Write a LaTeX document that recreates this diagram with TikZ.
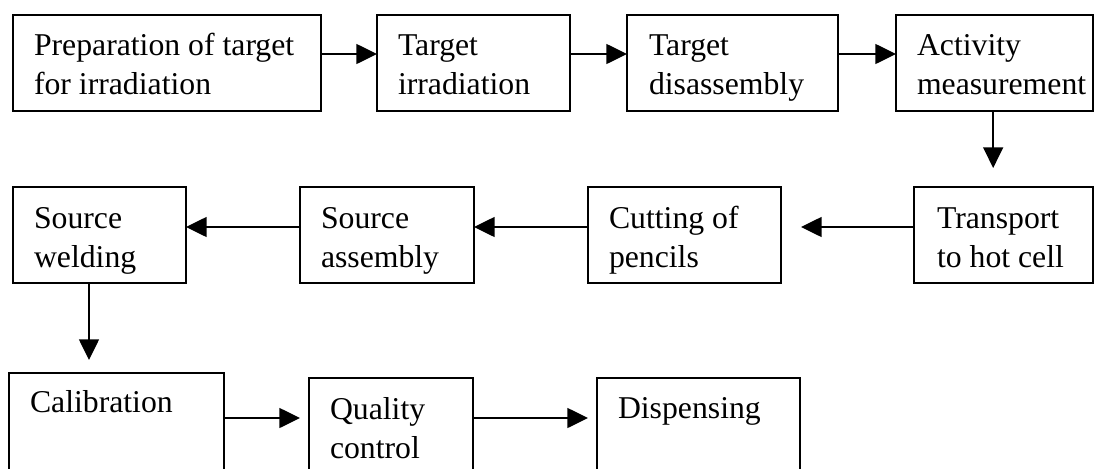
\documentclass[tikz,border=0pt]{standalone}
\usepackage{fontspec}
\setmainfont{Liberation Serif}
\usetikzlibrary{arrows.meta,calc}
\begin{document}
\begin{tikzpicture}[x=0.75pt,y=-0.75pt,
  box/.style={draw,line width=1.5pt,inner sep=0pt,outer sep=0pt,minimum height=72pt},
  lbl/.style={anchor=base west,inner sep=0pt,outer sep=0pt,align=left,font=\fontsize{23.8pt}{29.25pt}\selectfont},
  arr/.style={-{Triangle[length=15.5pt,width=15pt]},line width=1.1pt}]
\useasboundingbox (0,0) rectangle (1096,468);
\clip (0,0) rectangle (1096,468);
% row 1
\node[box,minimum width=231pt] (b1) at (167,63) {};
\node[box,minimum width=144.75pt] (b2) at (473.5,63) {};
\node[box,minimum width=158.25pt] (b3) at (732.5,63) {};
\node[box,minimum width=147.75pt] (b4) at (994.5,63) {};
% row 2
\node[box,minimum width=129.75pt] (sw) at (99.5,235) {};
\node[box,minimum width=130.5pt] (sa) at (387,235) {};
\node[box,minimum width=144.75pt] (cp) at (684.5,235) {};
\node[box,minimum width=134.25pt] (th) at (1003.5,235) {};
% row 3
\node[box,minimum width=161.25pt,minimum height=87.75pt] (cal) at (116.5,431.5) {};
\node[box,minimum width=123pt,minimum height=84pt] (qc) at (391,434) {};
\node[box,minimum width=152.25pt,minimum height=84pt] (dsp) at (698.5,434) {};
% labels (base anchor = baseline of last line)
\node[lbl] (t1) at ($(b1.north west)+(21,79)$) {Preparation of target\\for irradiation};
\node[lbl] (t2) at ($(b2.north west)+(21,79)$) {Target\\irradiation};
\node[lbl] (t3) at ($(b3.north west)+(22,79)$) {Target\\disassembly};
\node[lbl] (t4) at ($(b4.north west)+(21,79)$) {Activity\\measurement};
\node[lbl] (t5) at ($(sw.north west)+(21,80)$) {Source\\welding};
\node[lbl] (t6) at ($(sa.north west)+(21,80)$) {Source\\assembly};
\node[lbl] (t7) at ($(cp.north west)+(21,80)$) {Cutting of\\pencils};
\node[lbl] (t8) at ($(th.north west)+(23,80)$) {Transport\\to hot cell};
\node[lbl] (t9) at ($(cal.north west)+(21,39)$) {Calibration};
\node[lbl] (t10) at ($(qc.north west)+(21,80)$) {Quality\\control};
\node[lbl] (t11) at ($(dsp.north west)+(21,40)$) {Dispensing};
% connectors
\draw[arr] ([yshift=6.75pt]b1.east) -- ([yshift=6.75pt]b2.west);
\draw[arr] ([yshift=6.75pt]b2.east) -- ([yshift=6.75pt]b3.west);
\draw[arr] ([yshift=6.75pt]b3.east) -- ([yshift=6.75pt]b4.west);
\draw[arr,shorten >=14.25pt] ([xshift=-1pt]b4.south) -- ([xshift=-1pt]b4.south |- th.north);
\draw[arr,shorten >=15pt] ([yshift=6pt]th.west) -- ([yshift=6pt]cp.east);
\draw[arr] ([yshift=6pt]cp.west) -- ([yshift=6pt]sa.east);
\draw[arr] ([yshift=6pt]sa.west) -- ([yshift=6pt]sw.east);
\draw[arr,shorten >=9.75pt] ([xshift=-7.875pt]sw.south) -- ([xshift=-7.875pt]sw.south |- cal.north);
\draw[arr,shorten >=6.75pt] ([yshift=-33.75pt]cal.north east) -- ([yshift=-30pt]qc.north west);
\draw[arr,shorten >=6.75pt] ([yshift=-30pt]qc.north east) -- ([yshift=-30pt]dsp.north west);
\end{tikzpicture}
\end{document}
